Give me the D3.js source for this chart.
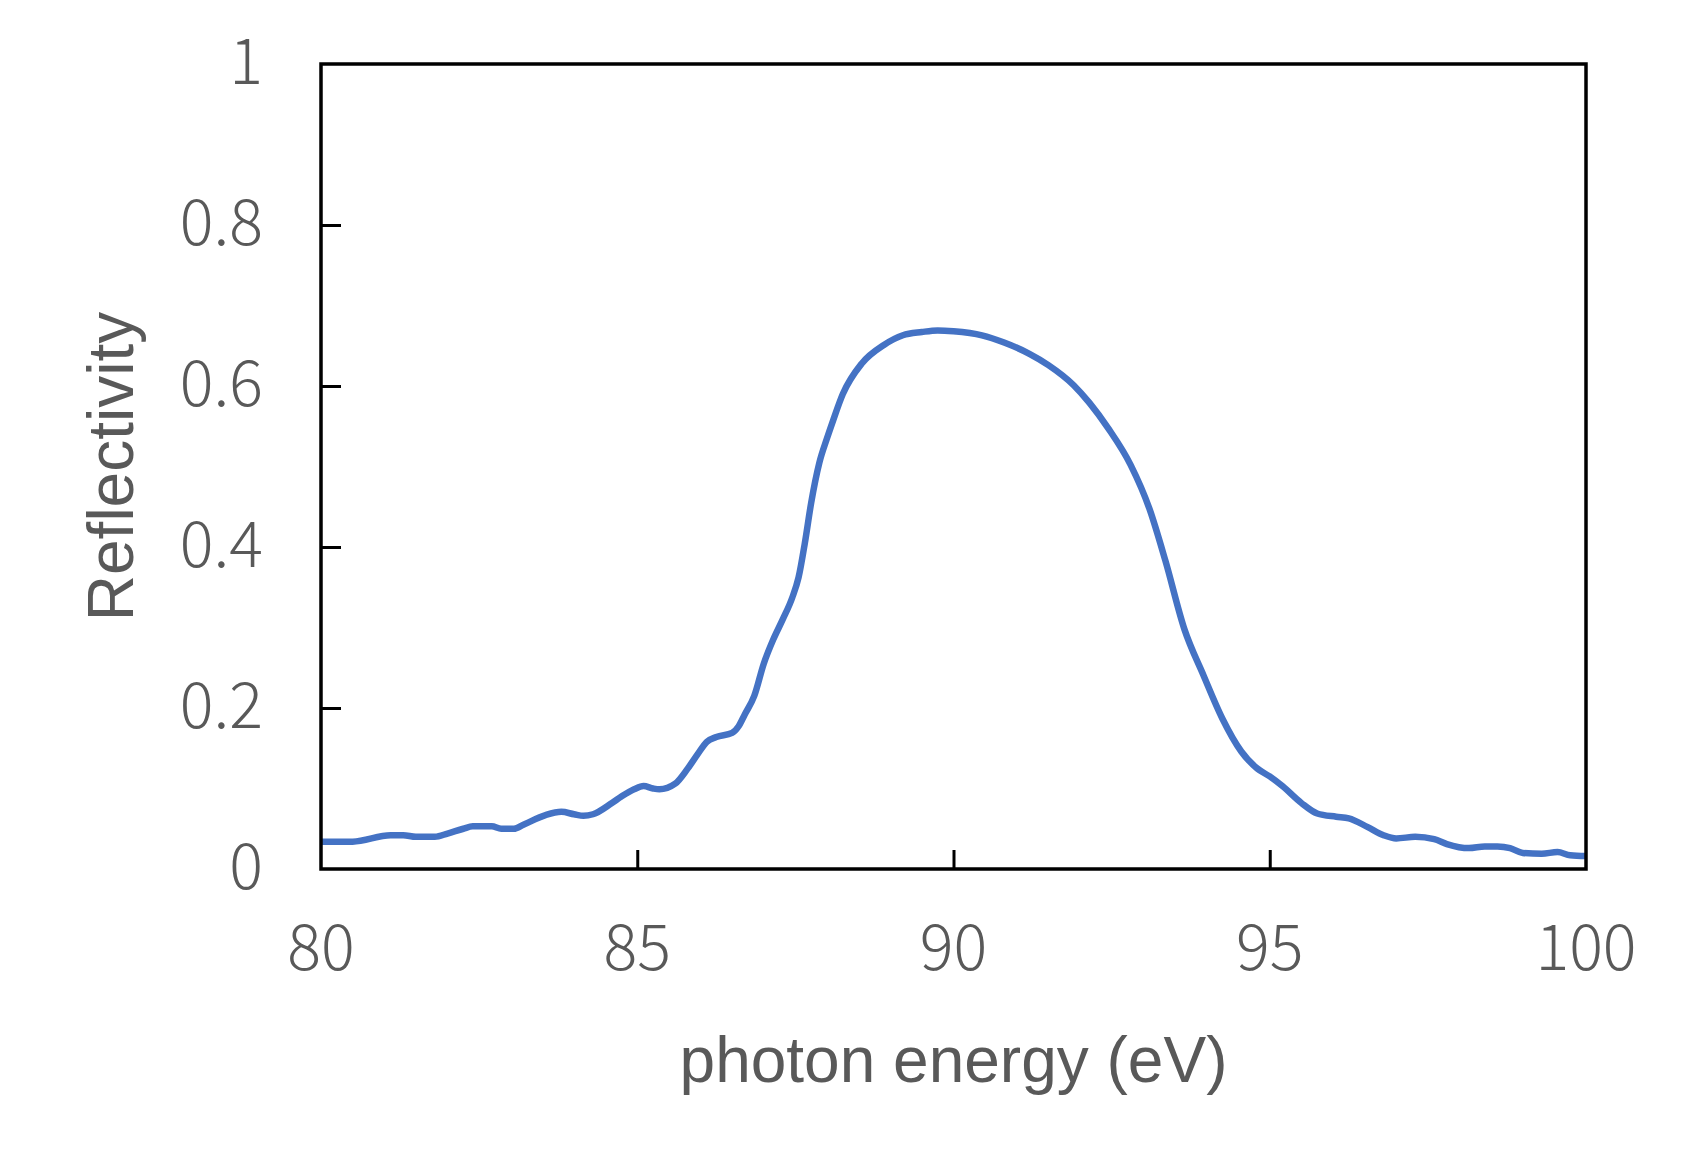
<!DOCTYPE html>
<html>
<head>
<meta charset="utf-8">
<script src="https://cdn.jsdelivr.net/npm/d3@7"></script>
<style>
    html, body { margin: 0; padding: 0; background: #fff; }
</style>
</head>
<body>
<div id="chart"></div>
<script>
// photon energy (eV)
const energy = [80.0, 80.5, 81.1, 81.3, 81.5, 81.8, 82.0, 82.25, 82.4, 82.7, 82.85, 83.05, 83.2, 83.55, 83.8,
    84.0, 84.15, 84.3, 84.6, 84.75, 84.95, 85.1, 85.25, 85.35, 85.6, 85.8, 85.95, 86.1, 86.25, 86.5,
    86.6, 86.7, 86.85, 87.0, 87.15, 87.3, 87.45, 87.55, 87.65, 87.75, 87.88, 88.0, 88.1, 88.25, 88.55,
    88.9, 89.2, 89.5, 89.75, 90.0, 90.45, 90.8, 91.2, 91.5, 91.9, 92.15, 92.45, 92.8, 93.1, 93.35,
    93.65, 93.95, 94.25, 94.55, 94.8, 95.0, 95.2, 95.5, 95.75, 96.05, 96.25, 96.55, 96.8, 97.0, 97.3,
    97.6, 97.8, 98.15, 98.4, 98.6, 98.8, 99.0, 99.3, 99.55, 99.75, 100.0];
// reflectivity at each energy
const reflectivity = [0.034, 0.034, 0.042, 0.042, 0.040, 0.040, 0.044, 0.050, 0.053, 0.053, 0.050, 0.050, 0.055, 0.067, 0.071,
    0.068, 0.066, 0.068, 0.082, 0.090, 0.099, 0.103, 0.100, 0.099, 0.106, 0.125, 0.142, 0.158, 0.164, 0.169,
    0.177, 0.192, 0.215, 0.255, 0.285, 0.310, 0.337, 0.362, 0.405, 0.455, 0.505, 0.535, 0.558, 0.590, 0.628,
    0.651, 0.663, 0.667, 0.669, 0.668, 0.663, 0.654, 0.640, 0.626, 0.601, 0.579, 0.547, 0.502, 0.447, 0.383,
    0.298, 0.241, 0.187, 0.146, 0.125, 0.115, 0.103, 0.082, 0.069, 0.065, 0.063, 0.052, 0.042, 0.038, 0.040,
    0.037, 0.031, 0.026, 0.028, 0.028, 0.026, 0.020, 0.019, 0.021, 0.017, 0.016];

const xTicks = [80, 85, 90, 95, 100];
const yTicks = [0, 0.2, 0.4, 0.6, 0.8, 1];

const width = 1689;
const height = 1169;
const margin = {top: 64, right: 103, bottom: 300, left: 321};
const lineColor = '#4472c4';
const textColor = '#595959';

const svg = d3.select('#chart').append('svg')
    .attr('width', width)
    .attr('height', height);

const x = d3.scaleLinear().domain([80, 100]).range([margin.left, width - margin.right]);
const y = d3.scaleLinear().domain([0, 1]).range([height - margin.bottom, margin.top]);

const points = energy.map((e, i) => ({e: e, r: reflectivity[i]}));

// inside ticks, drawn with the d3 axes
function drawAxes() {
    const xAxis = d3.axisBottom(x).tickValues(xTicks.slice(1, -1)).tickSizeInner(-19).tickSizeOuter(0).tickFormat('');
    const yAxis = d3.axisLeft(y).tickValues(yTicks.slice(1, -1)).tickSizeInner(-20).tickSizeOuter(0).tickFormat('');

    const gx = svg.append('g').attr('transform', `translate(0,${y(0)})`).call(xAxis);
    const gy = svg.append('g').attr('transform', `translate(${x(80)},0)`).call(yAxis);
    [gx, gy].forEach(g => {
        g.select('.domain').remove();
        g.selectAll('line').attr('stroke', '#000').attr('stroke-width', 3);
    });

    // tick labels
    svg.append('g').selectAll('text')
        .data(xTicks)
        .enter()
        .append('text')
        .attr('x', d => x(d))
        .attr('y', 970)
        .attr('text-anchor', 'middle')
        .attr('font-family', '"Noto Sans CJK JP", "Noto Sans", sans-serif')
        .attr('font-weight', 300)
        .attr('font-size', '63px')
        .attr('fill', textColor)
        .text(d => d);

    svg.append('g').selectAll('text')
        .data(yTicks)
        .enter()
        .append('text')
        .attr('x', 263)
        .attr('y', d => y(d) + 20)
        .attr('text-anchor', 'end')
        .attr('font-family', '"Noto Sans CJK JP", "Noto Sans", sans-serif')
        .attr('font-weight', 300)
        .attr('font-size', '63px')
        .attr('fill', textColor)
        .text(d => d);
}

function drawCurve() {
    const line = d3.line()
        .x(d => x(d.e))
        .y(d => y(d.r))
        .curve(d3.curveMonotoneX);

    svg.append('path')
        .datum(points)
        .attr('d', line)
        .attr('fill', 'none')
        .attr('stroke', lineColor)
        .style('stroke-width', '6.5px')
        .attr('stroke-linejoin', 'round');
}

function drawFrame() {
    svg.append('rect')
        .attr('x', x(80))
        .attr('y', y(1))
        .attr('width', x(100) - x(80))
        .attr('height', y(0) - y(1))
        .attr('fill', 'none')
        .attr('stroke', '#000')
        .style('stroke-width', '3.5px');
}

function drawTitles() {
    svg.append('text')
        .attr('x', (x(80) + x(100)) / 2)
        .attr('y', 1082)
        .attr('text-anchor', 'middle')
        .attr('font-family', '"Liberation Sans", Arial, sans-serif')
        .attr('font-size', '64px')
        .attr('fill', textColor)
        .text('photon energy (eV)');

    svg.append('text')
        .attr('transform', `translate(133,${(y(0) + y(1)) / 2}) rotate(-90)`)
        .attr('text-anchor', 'middle')
        .attr('font-family', '"Liberation Sans", Arial, sans-serif')
        .attr('font-size', '64px')
        .attr('fill', textColor)
        .text('Reflectivity');
}

drawCurve();
drawFrame();
drawAxes();
drawTitles();
</script>
</body>
</html>
